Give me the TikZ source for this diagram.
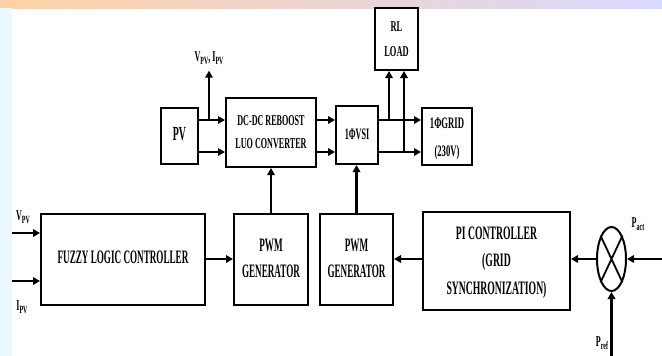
\documentclass[tikz,border=0pt]{standalone}
\usepackage{fontspec}
\setmainfont{Liberation Serif}
\usetikzlibrary{arrows.meta,shapes.geometric,calc}
\newcommand\bt[4]{\scalebox{#1}[1]{\fontsize{#2}{#3}\selectfont\bfseries\begin{tabular}{@{}c@{}}#4\end{tabular}}}
\newcommand\sbs[1]{\raisebox{-0.25em}{\fontsize{11}{11}\selectfont #1}}
\begin{document}
\begin{tikzpicture}[x=1pt,y=-1pt,
  blk/.style={draw,line width=2pt,rectangle,inner sep=0pt},
  arr/.style={line width=2.2pt,-{Triangle[length=7pt,width=7.5pt]}},
  lbl/.style={inner sep=0pt}]
\useasboundingbox (0,0) rectangle (662,356);
\fill[white] (0,0) rectangle (662,356);
\shade[left color=orange!35, middle color=yellow!50, right color=blue!15] (0,0) rectangle (662,8);
\fill[cyan!8] (0,8) rectangle (12,356);

% top row
\node[blk,minimum width=37,minimum height=56] (pv) at (179.5,136) {\bt{0.49}{20}{20}{PV}};
\node[blk,minimum width=90,minimum height=69] (dc) at (271,132.5) {\bt{0.54}{15}{23}{DC-DC REBOOST\\LUO CONVERTER}};
\node[blk,minimum width=42,minimum height=58] (vsi) at (357,135) {\bt{0.51}{16}{20}{1ΦVSI}};
\node[blk,minimum width=50,minimum height=57] (grid) at (447,136.5) {\bt{0.54}{16}{28}{1ΦGRID\\(230V)}};
\node[blk,minimum width=43,minimum height=62] (rl) at (396.5,39) {\bt{0.56}{15}{25}{RL\\LOAD}};
\node[lbl] (vl) at (209,58) {\bt{0.54}{15}{15}{V\sbs{PV}, I\sbs{PV}}};

% bottom row
\node[blk,minimum width=164,minimum height=91] (fz) at (123,259.5) {\bt{0.48}{19}{20}{FUZZY LOGIC CONTROLLER}};
\node[blk,minimum width=74,minimum height=91] (pw1) at (271,259.5) {\bt{0.48}{19}{26}{PWM\\GENERATOR}};
\node[blk,minimum width=73,minimum height=91] (pw2) at (356.5,259.5) {\bt{0.48}{19}{26}{PWM\\GENERATOR}};
\node[blk,minimum width=147,minimum height=98] (pi) at (496.5,261) {\bt{0.51}{19}{27.5}{PI CONTROLLER\\(GRID\\SYNCHRONIZATION)}};
\node[draw,ellipse,line width=2pt,minimum width=29,minimum height=64,inner sep=0pt] (cx) at (611.5,259) {};
\draw[line width=1.8pt] (cx.north west) -- (cx.south east) (cx.north east) -- (cx.south west);

% labels
\node[lbl] (pact) at (638,224) {\bt{0.54}{15}{15}{P\sbs{act}}};
\node[lbl] (pref) at (602,343) {\bt{0.54}{15}{15}{P\sbs{ref}}};
\node[lbl] (lv) at (23,217) {\bt{0.54}{15}{15}{V\sbs{PV}}};
\node[lbl] (li) at (22,307) {\bt{0.54}{15}{15}{I\sbs{PV}}};

% helper coordinates
\coordinate (ya) at (0,120);
\coordinate (yb) at (0,152);
\coordinate (yc) at (0,259);
\coordinate (t0) at (209,120);
\coordinate (t1) at (389,120);
\coordinate (t2) at (404,152);
\coordinate (vin) at (12,233);
\coordinate (iin) at (12,281);
\coordinate (pin) at (662,259);
\coordinate (rin) at (611.5,356);

% top connectors
\draw[arr] (pv.east|-ya) -- (dc.west|-ya);
\draw[arr] (pv.east|-yb) -- (dc.west|-yb);
\draw[arr] (t0) -- ([yshift=-5pt]vl.south);
\draw[arr] (dc.east|-ya) -- (vsi.west|-ya);
\draw[arr] (dc.east|-yb) -- (vsi.west|-yb);
\draw[arr] (vsi.east|-ya) -- (grid.west|-ya);
\draw[arr] (vsi.east|-yb) -- (grid.west|-yb);
\draw[arr] (t1) -- (t1|-rl.south);
\draw[arr] (t2) -- (t2|-rl.south);

% vertical links
\draw[arr] (pw1.north) -- (pw1.north|-dc.south);
\draw[arr] (pw2.north) -- (pw2.north|-vsi.south);

% bottom connectors
\draw[arr] (vin) -- (fz.west|-vin);
\draw[arr] (iin) -- (fz.west|-iin);
\draw[arr] (fz.east|-yc) -- (pw1.west|-yc);
\draw[arr] (pi.west|-yc) -- (pw2.east|-yc);
\draw[arr] (cx.west) -- (pi.east|-cx.west);
\draw[arr] (pin) -- (cx.east);
\draw[arr] (rin) -- (cx.south);
\end{tikzpicture}
\end{document}
